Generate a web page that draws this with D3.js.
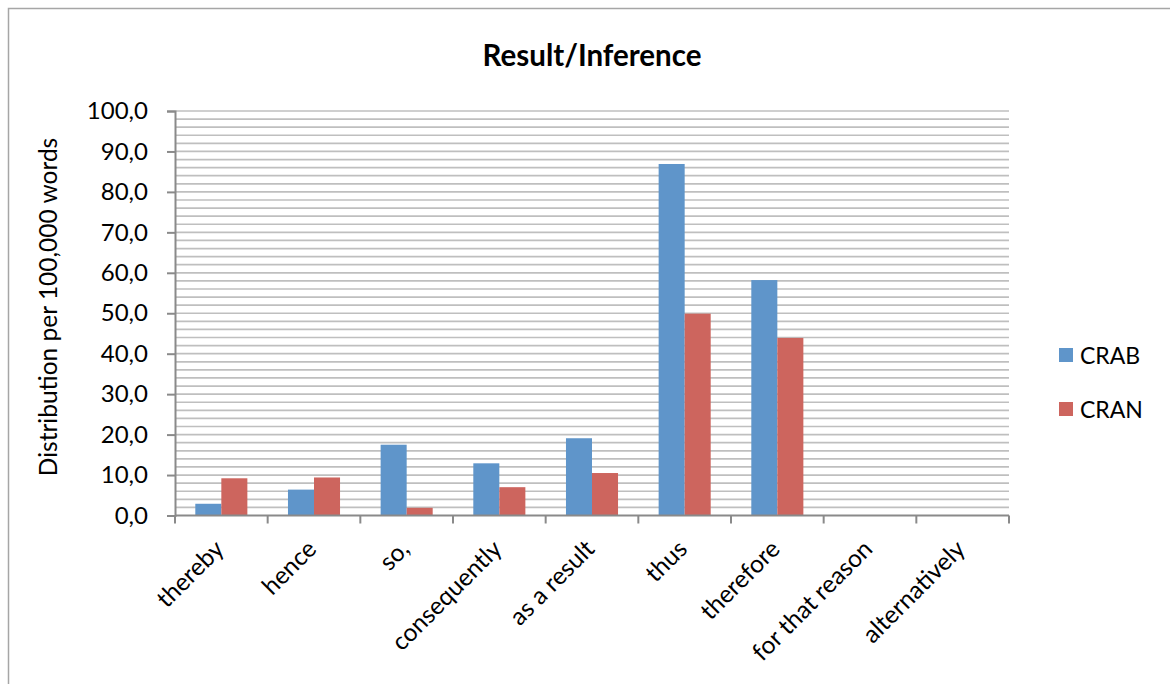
<!DOCTYPE html>
<html>
<head>
<meta charset="utf-8">
<script src="https://cdn.jsdelivr.net/npm/d3@7"></script>
<style>
  html, body { margin: 0; padding: 0; background: #fff; }
  svg { display: block; }
  text { font-family: Lato, "Open Sans", sans-serif; fill: #000; }
</style>
</head>
<body>
<svg id="chart" width="1170" height="684"></svg>
<script>
// Connective usage per 100,000 words in the two corpora
const categories = ["thereby", "hence", "so,", "consequently", "as a result",
                    "thus", "therefore", "for that reason", "alternatively"];
const seriesNames = ["CRAB", "CRAN"];
const crabValues = [2.9, 6.4, 17.5, 12.9, 19.1, 86.9, 58.2, 0, 0];
const cranValues = [9.2, 9.4, 1.9, 7.0, 10.5, 49.9, 43.9, 0, 0];
const yTicks = [0, 10, 20, 30, 40, 50, 60, 70, 80, 90, 100];
const colors = ["#5f95ca", "#cd655e"];

const svg = d3.select("#chart");
const plot = { left: 175, right: 1009, top: 111, bottom: 515.5 };

// Outer chart frame
svg.append("rect")
  .attr("x", 8.5).attr("y", 8.5)
  .attr("width", 1200).attr("height", 720)
  .attr("fill", "none").attr("stroke", "#a6a6a6").attr("stroke-width", 1.5);

const x0 = d3.scaleBand().domain(categories).range([plot.left, plot.right]).padding(0);
const x1 = d3.scaleBand().domain(seriesNames).range([0, x0.bandwidth()])
  .paddingInner(0).paddingOuter(0.78);
const y = d3.scaleLinear().domain([0, 100]).range([plot.bottom, plot.top]);

// Horizontal gridlines every 2 units
const gridVals = d3.range(2, 100.1, 2);
svg.append("g").selectAll("line").data(gridVals).join("line")
  .attr("x1", plot.left).attr("x2", plot.right)
  .attr("y1", d => y(d)).attr("y2", d => y(d))
  .attr("stroke", "#bfbfbf").attr("stroke-width", 1.7);

// Bars
const rows = categories.map((c, i) => ({ cat: c, vals: [crabValues[i], cranValues[i]] }));
const groups = svg.append("g").selectAll("g").data(rows).join("g")
  .attr("transform", d => `translate(${x0(d.cat)},0)`);
groups.selectAll("rect")
  .data(d => d.vals.map((v, j) => ({ name: seriesNames[j], v, j })).filter(e => e.v > 0))
  .join("rect")
  .attr("x", d => x1(d.name))
  .attr("width", x1.bandwidth())
  .attr("y", d => y(d.v))
  .attr("height", d => y(0) - y(d.v))
  .attr("fill", d => colors[d.j]);

// Y axis
const yAxis = d3.axisLeft(y).tickValues(yTicks).tickSize(8).tickPadding(19)
  .tickFormat(d => d3.format(".1f")(d).replace(".", ","));
const gy = svg.append("g").attr("transform", `translate(${plot.left},0)`).call(yAxis);
gy.select(".domain").attr("stroke", "#8a8a8a").attr("stroke-width", 2);
gy.selectAll(".tick line").attr("stroke", "#8a8a8a").attr("stroke-width", 2);
gy.selectAll(".tick text").style("font-size", "24px").style("font-family", "Lato, sans-serif");

// X axis with ticks at category boundaries
const gx = svg.append("g");
gx.append("line")
  .attr("x1", plot.left).attr("x2", plot.right)
  .attr("y1", y(0)).attr("y2", y(0))
  .attr("stroke", "#8a8a8a").attr("stroke-width", 2);
const bounds = categories.map(c => x0(c)).concat([x0(categories[categories.length - 1]) + x0.step()]);
gx.selectAll("line.bt").data(bounds).join("line").attr("class", "bt")
  .attr("x1", d => d).attr("x2", d => d)
  .attr("y1", y(0)).attr("y2", y(0) + 8)
  .attr("stroke", "#8a8a8a").attr("stroke-width", 2);
gx.selectAll("text").data(categories).join("text")
  .attr("transform", d => `translate(${x0(d) + x0.bandwidth() / 2 + 4},${y(0) + 35}) rotate(-45)`)
  .attr("text-anchor", "end")
  .style("font-size", "24.5px")
  .text(d => d);

// Y axis title
svg.append("text")
  .attr("transform", `translate(57,307) rotate(-90)`)
  .attr("text-anchor", "middle")
  .style("font-size", "24.5px")
  .text("Distribution per 100,000 words");

// Chart title
svg.append("text")
  .attr("x", 592).attr("y", 66)
  .attr("text-anchor", "middle")
  .style("font-size", "29.5px").style("font-weight", "bold")
  .text("Result/Inference");

// Legend
const legend = svg.append("g").selectAll("g").data(seriesNames).join("g")
  .attr("transform", (d, i) => `translate(1059,${348 + i * 54})`);
legend.append("rect").attr("width", 14).attr("height", 14)
  .attr("fill", (d, i) => colors[i]);
legend.append("text").attr("x", 21).attr("y", 16)
  .style("font-size", "23px").text(d => d);
</script>
</body>
</html>
